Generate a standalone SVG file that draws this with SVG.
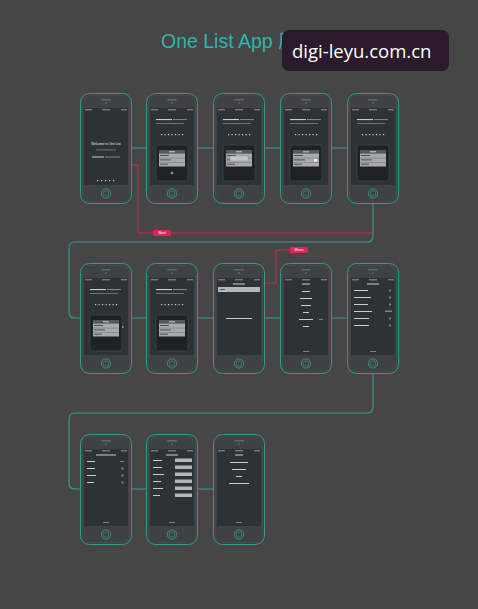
<svg xmlns="http://www.w3.org/2000/svg" xmlns:xlink="http://www.w3.org/1999/xlink" width="478" height="609" viewBox="0 0 478 609">
<style>
.conn{fill:none;stroke:#3a9a8b;stroke-width:1.1}
.red{fill:none;stroke:#d8285c;stroke-width:0.9}
.tl{fill:#c9cdd0}
.tm{fill:#7d8387}
.lbl{font-family:"Liberation Sans",Arial,sans-serif;font-size:3.6px;fill:#fff}
.tiny{font-family:"Liberation Sans",Arial,sans-serif;font-size:3.2px;fill:#e6e9eb}
</style>
<defs>
<g id="phone">
<rect x="0.5" y="0.5" width="51" height="110" rx="9" fill="#3f4143" stroke="#3a9888" stroke-width="1"/>
<rect x="2.5" y="2.5" width="47" height="106" rx="7.5" fill="none" stroke="#355a55" stroke-width="0.6"/>
<rect x="4" y="15" width="44" height="77" fill="#2d3237"/>
<rect x="21" y="6" width="10" height="1.6" rx="0.8" fill="#5b6968"/>
<circle cx="26" cy="10" r="1" fill="#5b6968"/>
<circle cx="26" cy="100.5" r="4.6" fill="none" stroke="#3a9888" stroke-width="0.9"/>
<rect x="23.6" y="98.1" width="4.8" height="4.8" rx="1.2" fill="none" stroke="#3a9888" stroke-width="0.6"/>
<rect x="5" y="16.3" width="7" height="1" fill="#8f979b"/>
<rect x="22" y="16.3" width="8" height="1" fill="#8f979b"/>
<rect x="41" y="16.3" width="6" height="1" fill="#8f979b"/>
</g>
<g id="inset">
<rect x="10" y="52" width="32" height="36" rx="3" fill="#1e2225" stroke="#4b5053" stroke-width="0.5"/>
<rect x="13" y="57" width="26" height="3.5" fill="#55595d"/>
<rect x="23" y="58.3" width="6" height="1" fill="#c9cdd0"/>
<rect x="13" y="60.5" width="26" height="13" fill="#a7abad"/>
<rect x="13" y="64.8" width="26" height="0.5" fill="#6d7275"/>
<rect x="13" y="69.1" width="26" height="0.5" fill="#6d7275"/>
<rect x="14" y="62" width="9" height="1" fill="#4a4f52"/>
<rect x="14" y="66.4" width="11" height="1" fill="#4a4f52"/>
<rect x="14" y="70.7" width="8" height="1" fill="#4a4f52"/>
</g>
<g id="headtxt">
<rect x="10" y="26" width="16" height="1.1" class="tl"/>
<rect x="27" y="26" width="14" height="1.1" class="tm"/>
<rect x="10" y="30" width="28" height="0.8" class="tm"/>
<rect x="15" y="41" width="1.2" height="1.2" class="tl"/><rect x="18.5" y="41" width="1.2" height="1.2" class="tl"/><rect x="22" y="41" width="1.2" height="1.2" class="tl"/><rect x="25.5" y="41" width="1.2" height="1.2" class="tl"/><rect x="29" y="41" width="1.2" height="1.2" class="tl"/><rect x="32.5" y="41" width="1.2" height="1.2" class="tl"/><rect x="36" y="41" width="1.2" height="1.2" class="tl"/>
</g>
</defs>
<rect width="478" height="609" fill="#464646"/>

<g id="title">
<text x="161" y="48" font-family="'Liberation Sans',Arial,'Noto Sans CJK SC',sans-serif" font-size="19.5" fill="#2eb5ae">One List App 原型</text>
</g>
<g id="watermark">
<rect x="282" y="30" width="167" height="41" rx="7" fill="#2a1a2c"/>
<text x="292" y="57.5" font-family="'Open Sans','DejaVu Sans',sans-serif" font-size="18.5" fill="#ffffff">digi-leyu.com.cn</text>
</g>

<g id="connectors">
<path class="conn" d="M131,148 H146 M197,148 H213 M264,148 H280 M331,148 H347"/>
<path class="conn" d="M373,204 V236 Q373,242 367,242 H75 Q69,242 69,248 V312 Q69,318 75,318 H80"/>
<path class="conn" d="M131,318 H146 M197,318 H213 M264,318 H280 M331,318 H347"/>
<path class="conn" d="M373,374 V407 Q373,413 367,413 H75 Q69,413 69,419 V483 Q69,489 75,489 H80"/>
<path class="conn" d="M131,489 H146 M197,489 H213"/>
<path class="red" d="M131,165 H138 V233 H153 M171,233 H372"/>
<path class="red" d="M264,283 H276 V250 H290"/>
</g>

<g id="label-start">
<rect x="153" y="230" width="18" height="6" rx="1" fill="#e0245e"/>
<text class="lbl" x="162" y="234.3" text-anchor="middle">Start</text>
</g>
<g id="label-menu">
<rect x="290" y="247" width="18" height="6" rx="1" fill="#e0245e"/>
<text class="lbl" x="299" y="251.3" text-anchor="middle">Menu</text>
</g>

<!-- Row 1 -->
<g id="r1p1" transform="translate(80,93)">
<use xlink:href="#phone"/>
<text class="tiny" x="26" y="52" text-anchor="middle">Welcome to One List</text>
<rect x="16" y="56.5" width="20" height="0.8" class="tm"/>
<rect x="12" y="63.5" width="12" height="1" class="tl"/>
<rect x="25" y="63.5" width="15" height="1" class="tm"/>
<rect x="17" y="87" width="1.2" height="1.2" class="tl"/><rect x="21" y="87" width="1.2" height="1.2" class="tl"/><rect x="25" y="87" width="1.2" height="1.2" class="tl"/><rect x="29" y="87" width="1.2" height="1.2" class="tl"/><rect x="33" y="87" width="1.2" height="1.2" class="tl"/>
</g>
<g id="r1p2" transform="translate(146,93)">
<use xlink:href="#phone"/><use xlink:href="#headtxt"/><use xlink:href="#inset"/>
<circle cx="26" cy="80" r="1.3" fill="#8f979b"/>
</g>
<g id="r1p3" transform="translate(213,93)">
<use xlink:href="#phone"/><use xlink:href="#headtxt"/><use xlink:href="#inset"/>
<rect x="17" y="63" width="18" height="5" fill="#c3c6c8" stroke="#777" stroke-width="0.3"/>
</g>
<g id="r1p4" transform="translate(280,93)">
<use xlink:href="#phone"/><use xlink:href="#headtxt"/><use xlink:href="#inset"/>
<rect x="34" y="66" width="3" height="2.5" fill="#eef0f1"/>
</g>
<g id="r1p5" transform="translate(347,93)">
<use xlink:href="#phone"/><use xlink:href="#headtxt"/><use xlink:href="#inset"/>
</g>

<!-- Row 2 -->
<g id="r2p1" transform="translate(80,263)">
<use xlink:href="#phone"/><use xlink:href="#headtxt"/><use xlink:href="#inset"/>
<rect x="42" y="63" width="1.5" height="2" fill="#8f979b"/>
</g>
<g id="r2p2" transform="translate(146,263)">
<use xlink:href="#phone"/><use xlink:href="#headtxt"/><use xlink:href="#inset"/>
</g>
<g id="r2p3" transform="translate(213,263)">
<use xlink:href="#phone"/>
<rect x="20" y="20.5" width="12" height="1" class="tl"/>
<rect x="5" y="24" width="42" height="5" fill="#b3b7b9"/>
<rect x="7" y="26" width="5" height="1" fill="#55595d"/>
<rect x="13" y="55" width="26" height="1" class="tl"/>
</g>
<g id="r2p4" transform="translate(280,263)">
<use xlink:href="#phone"/>
<rect x="22" y="20.5" width="8" height="1" class="tl"/>
<rect x="22" y="28" width="8" height="1" class="tl"/>
<rect x="20" y="35" width="12" height="1" class="tl"/>
<rect x="21" y="42" width="10" height="1" class="tl"/>
<rect x="23" y="49" width="6" height="1" class="tl"/>
<rect x="19" y="56" width="14" height="1" class="tl"/>
<rect x="39" y="56" width="4" height="1" class="tm"/>
<rect x="23" y="63" width="6" height="1" class="tl"/>
<rect x="23" y="88" width="6" height="1" class="tm"/>
</g>
<g id="r2p5" transform="translate(347,263)">
<use xlink:href="#phone"/>
<rect x="20" y="20.5" width="12" height="1" class="tl"/>
<rect x="7" y="27" width="14" height="1" class="tl"/><rect x="42" y="26.5" width="2" height="2" class="tm"/>
<rect x="7" y="34" width="17" height="1" class="tl"/><rect x="42" y="33.5" width="2" height="2" class="tm"/>
<rect x="7" y="41" width="14" height="1" class="tl"/><rect x="42" y="40.5" width="2" height="2" class="tm"/>
<rect x="7" y="48" width="18" height="1" class="tl"/><rect x="38" y="47.5" width="7" height="1.5" class="tm"/>
<rect x="7" y="55" width="15" height="1" class="tl"/><rect x="42" y="54.5" width="2" height="2" class="tm"/>
<rect x="7" y="62" width="15" height="1" class="tl"/><rect x="42" y="61.5" width="2" height="2" class="tm"/>
<rect x="23" y="88" width="6" height="1" class="tm"/>
</g>

<!-- Row 3 -->
<g id="r3p1" transform="translate(80,434)">
<use xlink:href="#phone"/>
<rect x="16" y="20.5" width="20" height="1" class="tl"/>
<rect x="7" y="27" width="8" height="1" class="tl"/><rect x="40" y="27" width="4" height="1" class="tm"/>
<rect x="7" y="34" width="8" height="1" class="tl"/><rect x="41.5" y="33.5" width="2" height="2" class="tm"/>
<rect x="7" y="41" width="9" height="1" class="tl"/><rect x="41.5" y="40.5" width="2" height="2" class="tm"/>
<rect x="7" y="48" width="7" height="1" class="tl"/><rect x="41.5" y="47.5" width="2" height="2" class="tm"/>
<rect x="23" y="88" width="6" height="1" class="tm"/>
</g>
<g id="r3p2" transform="translate(146,434)">
<use xlink:href="#phone"/>
<rect x="20" y="20.5" width="12" height="1" class="tl"/>
<rect x="7" y="26" width="9" height="1" class="tl"/><rect x="29" y="24.5" width="17" height="3.5" fill="#b3b7b9"/>
<rect x="7" y="33" width="9" height="1" class="tl"/><rect x="29" y="31.5" width="17" height="3.5" fill="#b3b7b9"/>
<rect x="7" y="40" width="11" height="1" class="tl"/><rect x="29" y="38.5" width="17" height="3.5" fill="#b3b7b9"/>
<rect x="7" y="47" width="8" height="1" class="tl"/><rect x="29" y="45.5" width="17" height="3.5" fill="#b3b7b9"/>
<rect x="7" y="54" width="10" height="1" class="tl"/><rect x="29" y="52.5" width="17" height="3.5" fill="#b3b7b9"/>
<rect x="7" y="61" width="7" height="1" class="tl"/><rect x="29" y="59.5" width="17" height="3.5" fill="#b3b7b9"/>
<rect x="23" y="88" width="6" height="1" class="tm"/>
</g>
<g id="r3p3" transform="translate(213,434)">
<use xlink:href="#phone"/>
<rect x="22" y="20.5" width="8" height="1" class="tl"/>
<rect x="17" y="28" width="18" height="1" class="tl"/>
<rect x="19" y="35" width="14" height="1" class="tl"/>
<rect x="23" y="42" width="6" height="1" class="tl"/>
<rect x="16" y="49" width="20" height="1" class="tl"/>
<rect x="23" y="88" width="6" height="1" class="tm"/>
</g>
</svg>
